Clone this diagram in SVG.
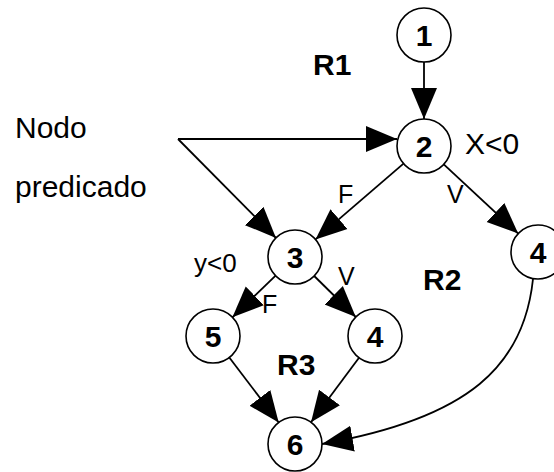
<svg xmlns="http://www.w3.org/2000/svg" width="554" height="472" viewBox="0 0 554 472">
  <style>
    .node circle { fill: #fff; stroke: #000; stroke-width: 1.6; }
    .node text { font-family: "Liberation Sans", Arial, sans-serif; font-size: 30px; font-weight: bold; text-anchor: middle; fill: #000; }
    .edge { fill: none; stroke: #000; stroke-width: 1.8; marker-end: url(#arrow); }
    .lbl { font-family: "Liberation Sans", Arial, sans-serif; fill: #000; }
    .region { font-family: "Liberation Sans", Arial, sans-serif; font-size: 30px; font-weight: bold; fill: #000; }
  </style>
  <defs>
    <marker id="arrow" markerUnits="userSpaceOnUse" markerWidth="32" markerHeight="28" viewBox="0 0 32 28" refX="31" refY="14" orient="auto">
      <path d="M0,1 L31,14 L0,27 Z" fill="#000"/>
    </marker>
  </defs>
  <rect width="554" height="472" fill="#fff"/>

  <!-- connectors -->
  <g id="edges">
    <line class="edge" x1="424" y1="62" x2="424" y2="119"/>
    <polyline class="edge" points="178,139 397,139"/>
    <line class="edge" x1="178" y1="139" x2="276" y2="238"/>
    <line class="edge" x1="403.5" y1="163.6" x2="315.5" y2="239.4"/>
    <line class="edge" x1="443.8" y1="164.4" x2="518.2" y2="233.6"/>
    <line class="edge" x1="275.6" y1="275.7" x2="232.4" y2="317.3"/>
    <line class="edge" x1="314.2" y1="276" x2="355.8" y2="317"/>
    <line class="edge" x1="229.3" y1="357.5" x2="278.7" y2="422.5"/>
    <line class="edge" x1="359" y1="357.7" x2="311" y2="422.3"/>
    <path class="edge" d="M533,279 C524,365 470,418 322,444"/>
  </g>

  <!-- nodes -->
  <g id="n1" class="node"><circle cx="424" cy="35" r="27"/><text x="424" y="46">1</text></g>
  <g id="n2" class="node"><circle cx="424" cy="146" r="27"/><text x="424" y="157">2</text></g>
  <g id="n3" class="node"><circle cx="295" cy="257" r="27"/><text x="295" y="268">3</text></g>
  <g id="n4a" class="node"><circle cx="538" cy="252" r="27"/><text x="538" y="263">4</text></g>
  <g id="n5" class="node"><circle cx="213" cy="336" r="27"/><text x="213" y="347">5</text></g>
  <g id="n4b" class="node"><circle cx="375" cy="336" r="27"/><text x="375" y="347">4</text></g>
  <g id="n6" class="node"><circle cx="295" cy="444" r="27"/><text x="295" y="455">6</text></g>

  <!-- labels -->
  <g id="labels">
    <text class="lbl" x="15" y="138" font-size="30">Nodo</text>
    <text class="lbl" x="15" y="197" font-size="30">predicado</text>
    <text class="lbl" x="465" y="154" font-size="30">X&lt;0</text>
    <text class="lbl" x="194" y="272" font-size="26">y&lt;0</text>
    <text class="lbl" x="338" y="203" font-size="25">F</text>
    <text class="lbl" x="447" y="203" font-size="25">V</text>
    <text class="lbl" x="262" y="313" font-size="25">F</text>
    <text class="lbl" x="338" y="285" font-size="25">V</text>
    <text class="region" x="313" y="75">R1</text>
    <text class="region" x="423" y="290">R2</text>
    <text class="region" x="277" y="375">R3</text>
  </g>
</svg>
